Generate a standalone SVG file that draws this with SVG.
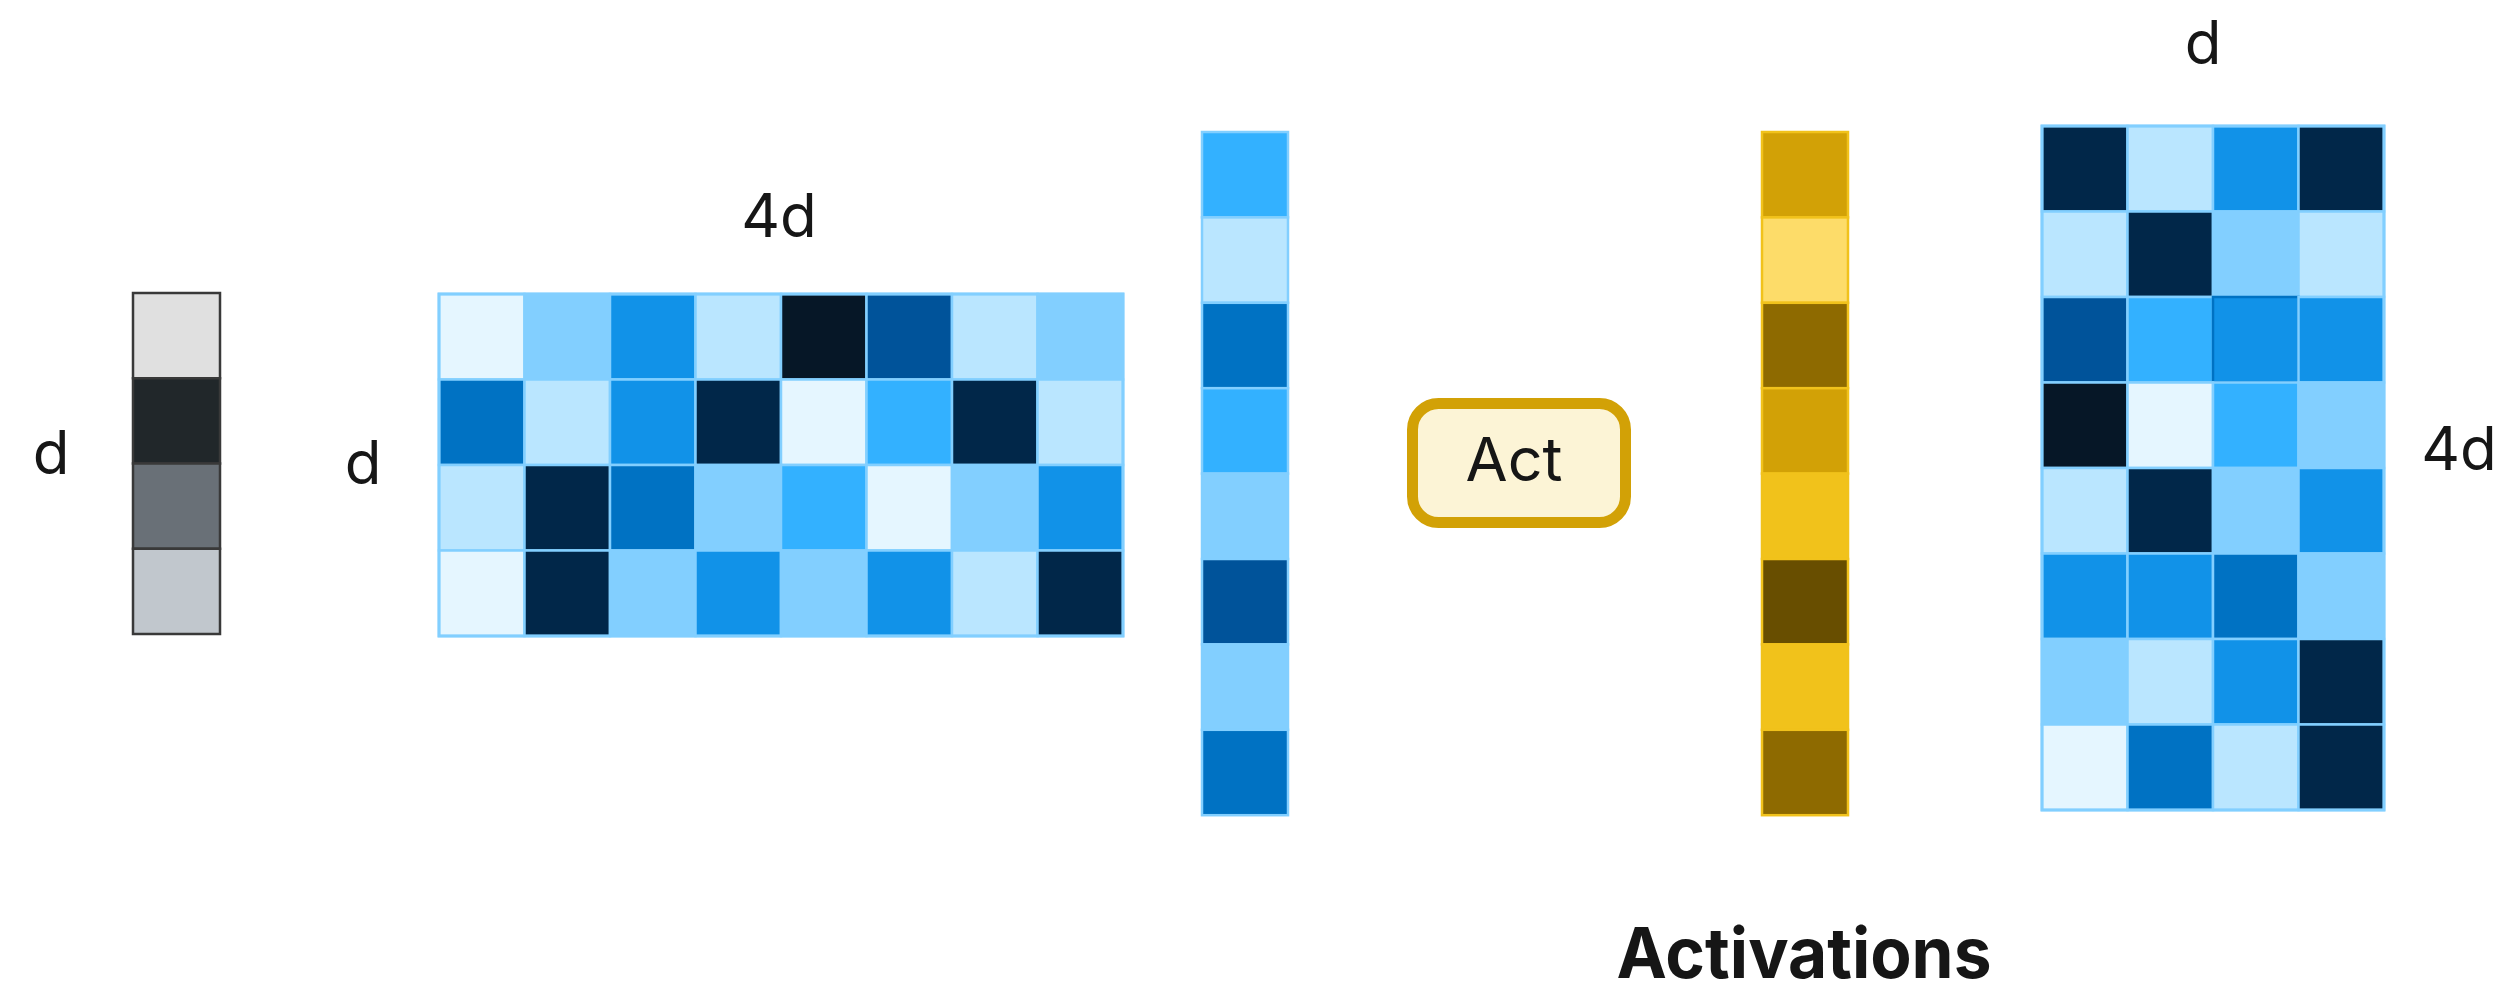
<svg xmlns="http://www.w3.org/2000/svg" width="2509" height="990" viewBox="0 0 2509 990">
  <style>
    .lbl { font-family: Inter, "Liberation Sans", sans-serif; font-size: 60px; fill: #161616; text-anchor: middle; }
    .title { font-family: Inter, "Liberation Sans", sans-serif; font-size: 70px; font-weight: 700; fill: #161616; text-anchor: middle; }
    .g { stroke: #393939; stroke-width: 2.5; }
    .b { stroke: #82cfff; stroke-width: 2.5; }
    .y { stroke: #f1c21b; stroke-width: 2.5; }
    .c10 { fill: #e5f6ff; } .c20 { fill: #bae6ff; } .c30 { fill: #82cfff; } .c40 { fill: #33b1ff; }
    .c50 { fill: #1192e8; } .c60 { fill: #0072c3; } .c70 { fill: #00539a; } .c90 { fill: #012749; } .c100 { fill: #061727; }
    .y20 { fill: #fddc69; } .y30 { fill: #f1c21b; } .y40 { fill: #d2a106; } .y60 { fill: #8e6a00; } .y70 { fill: #684e00; }
  </style>
  <rect width="2509" height="990" fill="#ffffff"/>

  <!-- input vector (d) -->
  <g id="input-vector">
    <rect class="g" x="133" y="293" width="87" height="85.25" fill="#e0e0e0"/>
    <rect class="g" x="133" y="378.25" width="87" height="85.25" fill="#21272a"/>
    <rect class="g" x="133" y="463.5" width="87" height="85.25" fill="#697077"/>
    <rect class="g" x="133" y="548.75" width="87" height="85.25" fill="#c1c7cd"/>
    <text class="lbl" x="51" y="474">d</text>
  </g>

  <!-- up-projection weights: d x 4d -->
  <g id="weights-up">
    <text class="lbl" x="779" y="237">4d</text>
    <text class="lbl" x="363" y="484">d</text>
    <g transform="translate(439,294)">
      <!-- row 0 -->
      <rect class="b c10" x="0" y="0" width="85.5" height="85.5"/>
      <rect class="b c30" x="85.5" y="0" width="85.5" height="85.5"/>
      <rect class="b c50" x="171" y="0" width="85.5" height="85.5"/>
      <rect class="b c20" x="256.5" y="0" width="85.5" height="85.5"/>
      <rect class="b c100" x="342" y="0" width="85.5" height="85.5"/>
      <rect class="b c70" x="427.5" y="0" width="85.5" height="85.5"/>
      <rect class="b c20" x="513" y="0" width="85.5" height="85.5"/>
      <rect class="b c30" x="598.5" y="0" width="85.5" height="85.5"/>
      <!-- row 1 -->
      <rect class="b c60" x="0" y="85.5" width="85.5" height="85.5"/>
      <rect class="b c20" x="85.5" y="85.5" width="85.5" height="85.5"/>
      <rect class="b c50" x="171" y="85.5" width="85.5" height="85.5"/>
      <rect class="b c90" x="256.5" y="85.5" width="85.5" height="85.5"/>
      <rect class="b c10" x="342" y="85.5" width="85.5" height="85.5"/>
      <rect class="b c40" x="427.5" y="85.5" width="85.5" height="85.5"/>
      <rect class="b c90" x="513" y="85.5" width="85.5" height="85.5"/>
      <rect class="b c20" x="598.5" y="85.5" width="85.5" height="85.5"/>
      <!-- row 2 -->
      <rect class="b c20" x="0" y="171" width="85.5" height="85.5"/>
      <rect class="b c90" x="85.5" y="171" width="85.5" height="85.5"/>
      <rect class="b c60" x="171" y="171" width="85.5" height="85.5"/>
      <rect class="b c30" x="256.5" y="171" width="85.5" height="85.5"/>
      <rect class="b c40" x="342" y="171" width="85.5" height="85.5"/>
      <rect class="b c10" x="427.5" y="171" width="85.5" height="85.5"/>
      <rect class="b c30" x="513" y="171" width="85.5" height="85.5"/>
      <rect class="b c50" x="598.5" y="171" width="85.5" height="85.5"/>
      <!-- row 3 -->
      <rect class="b c10" x="0" y="256.5" width="85.5" height="85.5"/>
      <rect class="b c90" x="85.5" y="256.5" width="85.5" height="85.5"/>
      <rect class="b c30" x="171" y="256.5" width="85.5" height="85.5"/>
      <rect class="b c50" x="256.5" y="256.5" width="85.5" height="85.5"/>
      <rect class="b c30" x="342" y="256.5" width="85.5" height="85.5"/>
      <rect class="b c50" x="427.5" y="256.5" width="85.5" height="85.5"/>
      <rect class="b c20" x="513" y="256.5" width="85.5" height="85.5"/>
      <rect class="b c90" x="598.5" y="256.5" width="85.5" height="85.5"/>
      <rect x="0" y="0" width="684" height="342" fill="none" stroke="#82cfff" stroke-width="3"/>
    </g>
  </g>

  <!-- hidden pre-activation vector (4d) -->
  <g id="hidden-vector" transform="translate(1202,132)">
    <rect class="b c40" x="0" y="0" width="86" height="85.4"/>
    <rect class="b c20" x="0" y="85.4" width="86" height="85.4"/>
    <rect class="b c60" x="0" y="170.8" width="86" height="85.4"/>
    <rect class="b c40" x="0" y="256.2" width="86" height="85.4"/>
    <rect class="b c30" x="0" y="341.6" width="86" height="85.4"/>
    <rect class="b c70" x="0" y="427" width="86" height="85.4"/>
    <rect class="b c30" x="0" y="512.4" width="86" height="85.4"/>
    <rect class="b c60" x="0" y="597.8" width="86" height="85.4"/>
  </g>

  <!-- activation function -->
  <g id="act">
    <rect x="1412.5" y="403.5" width="213" height="119" rx="26" fill="#fcf4d6" stroke="#d2a106" stroke-width="11"/>
    <text class="lbl" x="1514" y="481" style="font-size:61px">Act</text>
  </g>

  <!-- activations vector (4d) -->
  <g id="activations" transform="translate(1762,132)">
    <rect class="y y40" x="0" y="0" width="86" height="85.4"/>
    <rect class="y y20" x="0" y="85.4" width="86" height="85.4"/>
    <rect class="y y60" x="0" y="170.8" width="86" height="85.4"/>
    <rect class="y y40" x="0" y="256.2" width="86" height="85.4"/>
    <rect class="y y30" x="0" y="341.6" width="86" height="85.4"/>
    <rect class="y y70" x="0" y="427" width="86" height="85.4"/>
    <rect class="y y30" x="0" y="512.4" width="86" height="85.4"/>
    <rect class="y y60" x="0" y="597.8" width="86" height="85.4"/>
  </g>
  <g id="activations-label">
    <text class="title" x="1804" y="978" textLength="375" lengthAdjust="spacingAndGlyphs">Activations</text>
  </g>

  <!-- down-projection weights: 4d x d -->
  <g id="weights-down">
    <text class="lbl" x="2203" y="64">d</text>
    <text class="lbl" x="2459" y="470">4d</text>
    <g transform="translate(2042,126)">
      <rect class="b c90" x="0" y="0" width="85.5" height="85.5"/>
      <rect class="b c20" x="85.5" y="0" width="85.5" height="85.5"/>
      <rect class="b c50" x="171" y="0" width="85.5" height="85.5"/>
      <rect class="b c90" x="256.5" y="0" width="85.5" height="85.5"/>

      <rect class="b c20" x="0" y="85.5" width="85.5" height="85.5"/>
      <rect class="b c90" x="85.5" y="85.5" width="85.5" height="85.5"/>
      <rect class="b c30" x="171" y="85.5" width="85.5" height="85.5"/>
      <rect class="b c20" x="256.5" y="85.5" width="85.5" height="85.5"/>

      <rect class="b c70" x="0" y="171" width="85.5" height="85.5"/>
      <rect class="b c40" x="85.5" y="171" width="85.5" height="85.5"/>
      <rect class="b c50" x="171" y="171" width="85.5" height="85.5" style="stroke:#0072c3"/>
      <rect class="b c50" x="256.5" y="171" width="85.5" height="85.5"/>

      <rect class="b c100" x="0" y="256.5" width="85.5" height="85.5"/>
      <rect class="b c10" x="85.5" y="256.5" width="85.5" height="85.5"/>
      <rect class="b c40" x="171" y="256.5" width="85.5" height="85.5"/>
      <rect class="b c30" x="256.5" y="256.5" width="85.5" height="85.5"/>

      <rect class="b c20" x="0" y="342" width="85.5" height="85.5"/>
      <rect class="b c90" x="85.5" y="342" width="85.5" height="85.5"/>
      <rect class="b c30" x="171" y="342" width="85.5" height="85.5"/>
      <rect class="b c50" x="256.5" y="342" width="85.5" height="85.5"/>

      <rect class="b c50" x="0" y="427.5" width="85.5" height="85.5"/>
      <rect class="b c50" x="85.5" y="427.5" width="85.5" height="85.5"/>
      <rect class="b c60" x="171" y="427.5" width="85.5" height="85.5"/>
      <rect class="b c30" x="256.5" y="427.5" width="85.5" height="85.5"/>

      <rect class="b c30" x="0" y="513" width="85.5" height="85.5"/>
      <rect class="b c20" x="85.5" y="513" width="85.5" height="85.5"/>
      <rect class="b c50" x="171" y="513" width="85.5" height="85.5"/>
      <rect class="b c90" x="256.5" y="513" width="85.5" height="85.5"/>

      <rect class="b c10" x="0" y="598.5" width="85.5" height="85.5"/>
      <rect class="b c60" x="85.5" y="598.5" width="85.5" height="85.5"/>
      <rect class="b c20" x="171" y="598.5" width="85.5" height="85.5"/>
      <rect class="b c90" x="256.5" y="598.5" width="85.5" height="85.5"/>
      <rect x="0" y="0" width="342" height="684" fill="none" stroke="#82cfff" stroke-width="3"/>
    </g>
  </g>

  <g id="connectors"/>
</svg>
